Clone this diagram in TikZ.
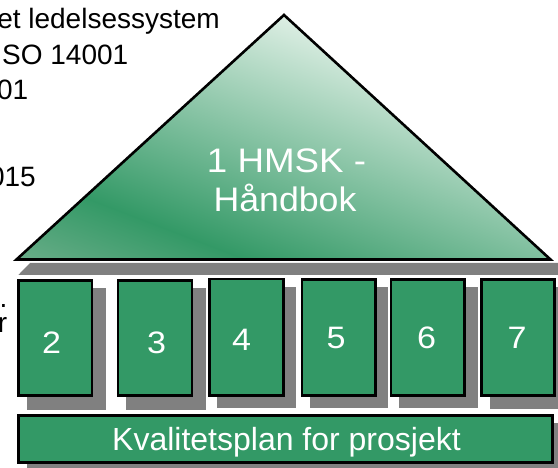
\documentclass[tikz,border=0pt]{standalone}
\usepackage{fontspec}
\setmainfont{Liberation Sans}
\usepackage{graphicx}
\definecolor{boxgreen}{RGB}{51,153,102}
\definecolor{shadowgray}{RGB}{128,128,128}
\definecolor{tricornerL}{RGB}{108,174,138}
\definecolor{triapex}{RGB}{224,240,230}
\tikzset{
  sidetext/.style={text=black, font=\fontsize{28}{32}\selectfont, inner sep=0pt, anchor=base east},
  shadowbox/.style={fill=shadowgray, draw=none},
  greenbox/.style={fill=boxgreen, draw=black, line width=2.6pt, inner sep=0pt},
  digitlabel/.style={text=white, font=\fontsize{31}{31}\selectfont, inner sep=0pt, anchor=base},
  hmsklabel/.style={text=white, font=\fontsize{34}{34}\selectfont, inner sep=0pt, anchor=base},
  kvlabel/.style={text=white, font=\fontsize{32}{32}\selectfont, inner sep=0pt, anchor=base},
  triline/.style={draw=black, line width=2.6pt, line join=miter}
}
\begin{document}
\begin{tikzpicture}[x=1pt,y=-1pt]
\useasboundingbox (0,0) rectangle (558,468);
\fill[white] (0,0) rectangle (558,468);
\clip (0,0) rectangle (558,468);

% partially hidden side text
\node[sidetext] (s1) at (220,29) {et ledelsessystem};
\node[sidetext] (s2) at (128.5,65) {SO 14001};
\node[sidetext] (s3) at (28.5,100) {01};
\node[sidetext] (s4) at (36,186.7) {015};
\node[sidetext] (s5) at (7.7,308) {.};
\node[sidetext] (s6) at (7.5,332.7) {r};

% shadow band under the triangle
\fill[shadowgray] (30,263) -- (560,263) -- (560,275) -- (18.3,275) -- cycle;

% triangle
\coordinate (tl) at (16.5,259.5);
\coordinate (ta) at (284,15);
\coordinate (tr) at (550.5,259.5);
\begin{scope}
  \clip (tl) -- (ta) -- (tr) -- cycle;
  \begin{scope}[transform canvas={rotate around={-21:(284,150)}}]
    \shade[top color=boxgreen, bottom color=tricornerL] (-120,265) rectangle (690,352);
    \shade[top color=triapex, bottom color=boxgreen] (-120,20) rectangle (690,266);
  \end{scope}
\end{scope}
\draw[triline] (tl) -- (ta) -- (tr) -- cycle;
\node[hmsklabel] (h1) at (286.5,173) {\scalebox{1.08}[1]{1 HMSK -}};
\node[hmsklabel] (h2) at (285,212) {\scalebox{1.05}[1]{Håndbok}};

% shadows of boxes
\fill[shadowgray] (26.7,288) rectangle (106,410);
\fill[shadowgray] (126,288) rectangle (206,410);
\fill[shadowgray] (216.7,287) rectangle (296,408.3);
\fill[shadowgray] (309.7,287) rectangle (388,408.3);
\fill[shadowgray] (398.7,287) rectangle (478,408.3);
\fill[shadowgray] (489.7,287) rectangle (562,409.3);
\fill[shadowgray] (26.7,423) rectangle (567,480);

% green boxes
\node[greenbox, minimum width=73.4pt, minimum height=115.4pt] (b2) at (55.3,338) {};
\node[greenbox, minimum width=74pt, minimum height=115.4pt] (b3) at (155,338) {};
\node[greenbox, minimum width=73.8pt, minimum height=116.4pt] (b4) at (246.5,337.2) {};
\node[greenbox, minimum width=73.7pt, minimum height=115.8pt] (b5) at (338.85,337.5) {};
\node[greenbox, minimum width=73.4pt, minimum height=115.8pt] (b6) at (427.7,337.5) {};
\node[greenbox, minimum width=72.6pt, minimum height=115.8pt] (b7) at (517.9,337.5) {};
\node[greenbox, minimum width=534.1pt, minimum height=47.4pt] (kv) at (285.65,439) {};

\node[digitlabel] (l2) at (51.7,354) {\scalebox{1.1}[1]{2}};
\node[digitlabel] (l3) at (156.7,354) {\scalebox{1.1}[1]{3}};
\node[digitlabel] (l4) at (241.7,351) {\scalebox{1.1}[1]{4}};
\node[digitlabel] (l5) at (336,348.7) {\scalebox{1.1}[1]{5}};
\node[digitlabel] (l6) at (426.5,348.7) {\scalebox{1.1}[1]{6}};
\node[digitlabel] (l7) at (517,348.7) {\scalebox{1.1}[1]{7}};
\node[kvlabel] (kvt) at (286.5,450) {Kvalitetsplan for prosjekt};
\end{tikzpicture}
\end{document}
